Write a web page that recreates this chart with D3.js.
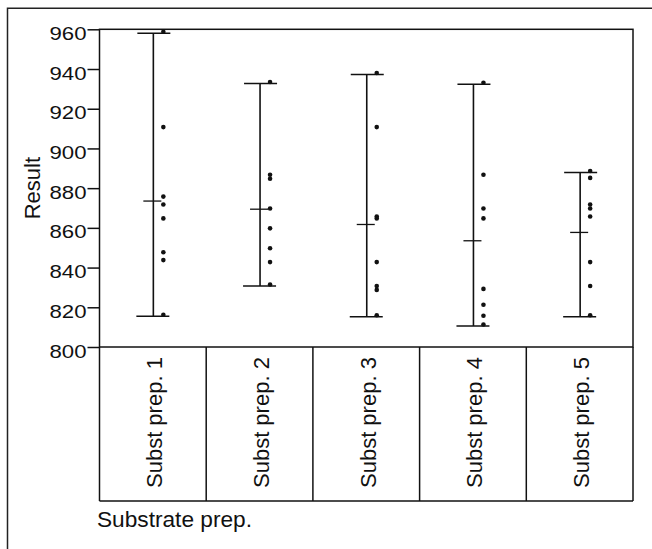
<!DOCTYPE html>
<html>
<head>
<meta charset="utf-8">
<script src="https://cdn.jsdelivr.net/npm/d3@7"></script>
<style>
  html, body { margin: 0; padding: 0; background: #fff; }
  svg { display: block; }
  text { font-family: "Liberation Sans", Arial, Helvetica, sans-serif; fill: #111; }
</style>
</head>
<body>
<svg id="chart" width="652" height="549"></svg>
<script>
// ---- data ----
const categories = ["Subst prep. 1", "Subst prep. 2", "Subst prep. 3", "Subst prep. 4", "Subst prep. 5"];
const prep1 = [958, 910, 875, 871, 864, 847, 843, 815.5];
const prep2 = [932.7, 886, 884, 869, 859, 849, 842, 830.7];
const prep3 = [937.2, 910, 865, 864, 842, 830, 828, 815.2];
const prep4 = [932.3, 886, 869, 864, 828.5, 820.5, 815, 810.6];
const prep5 = [887.9, 884.4, 871, 869, 865, 842, 830, 815.2];
const groupMeans = [873.5, 869.4, 861.7, 853.5, 857.7];
const yTicks = [800, 820, 840, 860, 880, 900, 920, 940, 960];
const yDomain = [800, 960];
const yTitle = "Result";
const xTitle = "Substrate prep.";

const groups = [prep1, prep2, prep3, prep4, prep5];

// ---- layout ----
const svg = d3.select("#chart");
const plotL = 99.5, plotR = 633, plotT = 29.3, plotB = 347, tableB = 501;
const ink = "#111";

const x = d3.scaleBand().domain(categories).range([plotL, plotR]);
const y = d3.scaleLinear().domain(yDomain).range([plotB, plotT]);
const cx = c => x(c) + x.bandwidth() / 2 + 0.5;

// outer frame (cropped)
svg.append("path")
  .attr("d", "M7.5,560 V8.3 H662")
  .attr("fill", "none").attr("stroke", "#222").attr("stroke-width", 1.5);

// y axis
const yAxis = d3.axisLeft(y).tickValues(yTicks).tickSize(12).tickPadding(1).tickFormat(d3.format("d"));
const ga = svg.append("g").attr("transform", `translate(${plotL},0)`).call(yAxis);
ga.select(".domain").remove();
ga.selectAll(".tick line").attr("stroke", ink).attr("stroke-width", 1.5);
ga.selectAll(".tick text")
  .attr("font-size", 19)
  .attr("dy", "0.53em")
  .attr("textLength", 37)
  .attr("lengthAdjust", "spacingAndGlyphs")
  .style("font-family", "'Liberation Sans', Arial, sans-serif")
  .attr("fill", ink);

// plot frame
svg.append("rect")
  .attr("x", plotL).attr("y", plotT)
  .attr("width", plotR - plotL).attr("height", plotB - plotT)
  .attr("fill", "none").attr("stroke", ink).attr("stroke-width", 1.5);

// category table
const bounds = categories.map(c => x(c)).concat([plotR]);
svg.append("g").selectAll("line").data(bounds).join("line")
  .attr("x1", d => d).attr("x2", d => d)
  .attr("y1", plotB).attr("y2", tableB)
  .attr("stroke", ink).attr("stroke-width", 1.5);
svg.append("line")
  .attr("x1", plotL).attr("x2", plotR)
  .attr("y1", tableB).attr("y2", tableB)
  .attr("stroke", ink).attr("stroke-width", 1.5);

svg.append("g").selectAll("text").data(categories).join("text")
  .attr("transform", c => `translate(${cx(c) + 9},488) rotate(-90)`)
  .attr("text-anchor", "start")
  .attr("font-size", 22)
  .text(c => c);

// y title
svg.append("text")
  .attr("transform", `translate(40,${(plotT + plotB) / 2}) rotate(-90)`)
  .attr("text-anchor", "middle")
  .attr("font-size", 22)
  .text(yTitle);

// x title
svg.append("text")
  .attr("x", 97).attr("y", 527)
  .attr("font-size", 22)
  .attr("textLength", 155)
  .attr("lengthAdjust", "spacingAndGlyphs")
  .text(xTitle);

// range bars, caps, mean ticks, points
const gg = svg.append("g").selectAll("g").data(categories).join("g");
gg.append("line")
  .attr("x1", c => cx(c)).attr("x2", c => cx(c))
  .attr("y1", (c, i) => y(d3.max(groups[i])))
  .attr("y2", (c, i) => y(d3.min(groups[i])))
  .attr("stroke", ink).attr("stroke-width", 1.6);
gg.append("line")
  .attr("x1", c => cx(c) - 16).attr("x2", c => cx(c) + 17)
  .attr("y1", (c, i) => y(d3.max(groups[i]))).attr("y2", (c, i) => y(d3.max(groups[i])))
  .attr("stroke", ink).attr("stroke-width", 1.6);
gg.append("line")
  .attr("x1", c => cx(c) - 17).attr("x2", c => cx(c) + 16)
  .attr("y1", (c, i) => y(d3.min(groups[i]))).attr("y2", (c, i) => y(d3.min(groups[i])))
  .attr("stroke", ink).attr("stroke-width", 1.6);
gg.append("line")
  .attr("x1", c => cx(c) - 10).attr("x2", c => cx(c) + 8)
  .attr("y1", (c, i) => y(groupMeans[i])).attr("y2", (c, i) => y(groupMeans[i]))
  .attr("stroke", ink).attr("stroke-width", 1.3);
gg.each(function (c, i) {
  d3.select(this).selectAll("circle").data(groups[i]).join("circle")
    .attr("cx", cx(c) + 10)
    .attr("cy", v => y(v) - 1.5)
    .attr("r", 2.3)
    .attr("fill", ink);
});
</script>
</body>
</html>
